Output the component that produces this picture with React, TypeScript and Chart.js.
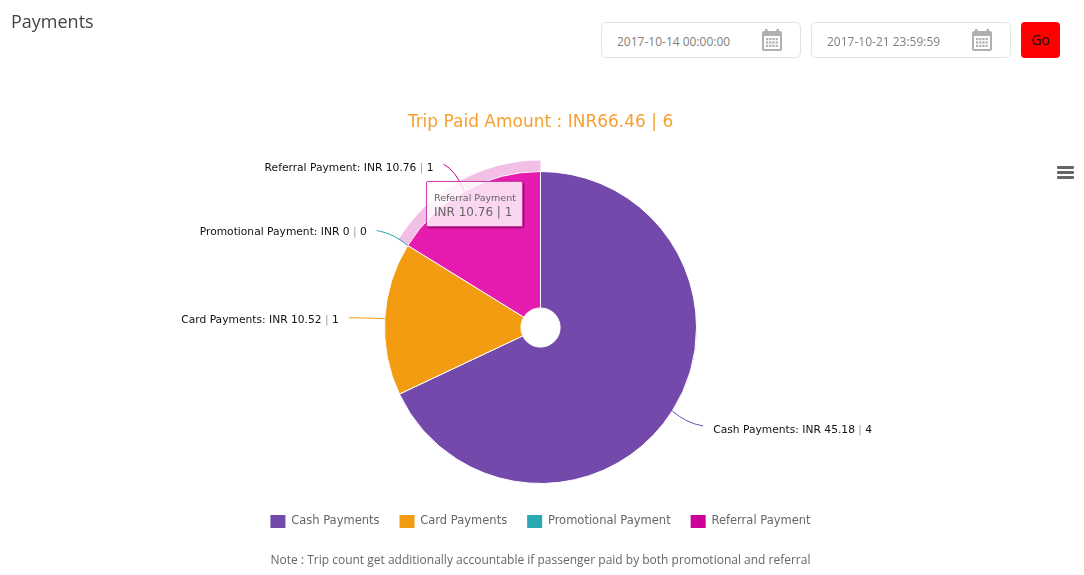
import React, { useEffect, useRef } from "react";
import { Chart, registerables } from "chart.js";

Chart.register(...registerables);

const categories = ["Cash Payments", "Card Payments", "Promotional Payment", "Referral Payment"];
const amounts = [45.18, 10.52, 0, 10.76];
const counts = [4, 1, 0, 1];
const colors = ["#7349ac", "#f39c12", "#2aa9b0", "#cc0099"];
const hoverColors = ["#7349ac", "#f39c12", "#2aa9b0", "#e61cb0"];
const chartTitle = "Trip Paid Amount : INR66.46 | 6";
const noteText = "Note : Trip count get additionally accountable if passenger paid by both promotional and referral";
const dateFrom = "2017-10-14 00:00:00";
const dateTo = "2017-10-21 23:59:59";
const activeIndex = 3;

const LABEL_FONT = '10.7px "DejaVu Sans"';

const connectorOffsets = [
  { x: 31, y: 15, labelDy: 4.5 },
  { x: -36, y: -1, labelDy: 2.5 },
  { x: -31, y: -15, labelDy: 1.5 },
  { x: -21, y: -27, labelDy: 3.5 },
];

const pieAnnotations = {
  id: "pieAnnotations",
  beforeDatasetsDraw(chart: any) {
    const arc = chart.getDatasetMeta(0).data[activeIndex];
    const { x, y, startAngle, endAngle, outerRadius } = arc;
    const ctx = chart.ctx;
    ctx.save();
    ctx.beginPath();
    ctx.arc(x, y, outerRadius + 11, startAngle, endAngle);
    ctx.arc(x, y, outerRadius - 1, endAngle, startAngle, true);
    ctx.closePath();
    ctx.fillStyle = "rgba(204,0,153,0.25)";
    ctx.fill();
    ctx.restore();
  },
  afterDatasetsDraw(chart: any) {
    const ctx = chart.ctx;
    const arcs = chart.getDatasetMeta(0).data;
    ctx.save();
    ctx.font = LABEL_FONT;
    ctx.textBaseline = "middle";
    arcs.forEach((arc: any, i: number) => {
      const mid = (arc.startAngle + arc.endAngle) / 2;
      const px = arc.x + Math.cos(mid) * arc.outerRadius;
      const py = arc.y + Math.sin(mid) * arc.outerRadius;
      const off = connectorOffsets[i];
      const ex = px + off.x;
      const ey = py + off.y;
      ctx.beginPath();
      ctx.moveTo(ex, ey);
      ctx.quadraticCurveTo(px + off.x * 0.45, py + off.y * 0.8, px, py);
      ctx.strokeStyle = colors[i];
      ctx.lineWidth = 1;
      ctx.stroke();

      const a = `${categories[i]}: INR ${amounts[i]} `;
      const b = "|";
      const c = ` ${counts[i]}`;
      const w = ctx.measureText(a + b + c).width;
      const right = off.x > 0;
      let tx = right ? ex + 10 : ex - 10 - w;
      const ty = ey + off.labelDy;
      ctx.textAlign = "left";
      ctx.fillStyle = "#111111";
      ctx.fillText(a, tx, ty);
      tx += ctx.measureText(a).width;
      ctx.fillStyle = "#9a9aa8";
      ctx.fillText(b, tx, ty);
      tx += ctx.measureText(b).width;
      ctx.fillStyle = "#111111";
      ctx.fillText(c, tx, ty);
    });
    ctx.restore();
  },
};

function renderTooltip(el: HTMLDivElement | null) {
  return ({ tooltip }: any) => {
    if (!el) return;
    const title = tooltip.title?.[0] ?? "";
    const body = tooltip.body?.[0]?.lines?.[0] ?? "";
    el.style.display = tooltip.opacity === 0 ? "none" : "block";
    (el.children[0] as HTMLElement).textContent = title;
    (el.children[1] as HTMLElement).textContent = body;
  };
}

function CalendarIcon() {
  return (
    <svg width="20" height="22" viewBox="0 0 20 22" style={{ position: "absolute", right: 18, top: 6 }}>
      <rect x="0" y="2" width="20" height="20" rx="2" fill="#b0b0b0" />
      <rect x="3" y="0" width="2.5" height="4" fill="#b0b0b0" />
      <rect x="14.5" y="0" width="2.5" height="4" fill="#b0b0b0" />
      <rect x="2" y="7" width="16" height="13" fill="#ffffff" />
      {[0, 1, 2].map((r) =>
        [0, 1, 2, 3].map((c) => (
          <rect key={`${r}-${c}`} x={4 + c * 3.2} y={9 + r * 3.4} width="2.2" height="2.2" fill="#b0b0b0" />
        ))
      )}
    </svg>
  );
}

function DateBox({ left, value }: { left: number; value: string }) {
  return (
    <div
      style={{
        position: "absolute",
        left,
        top: 22,
        width: 198,
        height: 34,
        border: "1px solid #e3e3e3",
        borderRadius: 5,
        background: "#fff",
      }}
    >
      <span style={{ position: "absolute", left: 15, top: 9.5, fontSize: 12, lineHeight: "17px", color: "#808080" }}>{value}</span>
      <CalendarIcon />
    </div>
  );
}

export default function App() {
  const canvasRef = useRef<HTMLCanvasElement>(null);
  const tipRef = useRef<HTMLDivElement>(null);

  useEffect(() => {
    if (!canvasRef.current) return;
    const chart = new Chart(canvasRef.current, {
      type: "doughnut",
      data: {
        labels: categories,
        datasets: [
          {
            data: amounts,
            backgroundColor: colors,
            hoverBackgroundColor: hoverColors,
            borderColor: "#ffffff",
            hoverBorderColor: "#ffffff",
            borderWidth: 1,
            hoverBorderWidth: 1,
            hoverOffset: 0,
          },
        ],
      },
      options: {
        responsive: false,
        animation: false,
        events: [],
        cutout: 21,
        radius: 156,
        layout: { padding: { left: 0, right: 3, top: 0, bottom: 37 } },
        plugins: {
          title: {
            display: true,
            text: chartTitle,
            color: "#f5a030",
            font: { family: '"DejaVu Sans"', size: 17, weight: "normal" },
            padding: { top: 112.5, bottom: 27.1 },
          },
          legend: {
            display: true,
            position: "bottom",
            labels: {
              boxWidth: 15,
              boxHeight: 13,
              padding: 20,
              color: "#666666",
              font: { family: '"DejaVu Sans"', size: 11.5 },
              generateLabels: () =>
                categories.map((text, i) => ({
                  text,
                  fillStyle: colors[i],
                  strokeStyle: colors[i],
                  lineWidth: 0,
                  hidden: false,
                  index: i,
                  fontColor: "#666666",
                })),
            },
          },
          tooltip: {
            enabled: false,
            external: renderTooltip(tipRef.current),
            callbacks: {
              title: (items: any[]) => items[0].label,
              label: (item: any) => `INR ${amounts[item.dataIndex]} | ${counts[item.dataIndex]}`,
            },
          },
        },
      } as any,
      plugins: [pieAnnotations],
    });
    const active = [{ datasetIndex: 0, index: activeIndex }];
    chart.setActiveElements(active);
    chart.tooltip?.setActiveElements(active, { x: 470, y: 200 });
    chart.render();
    return () => chart.destroy();
  }, []);

  return (
    <div
      style={{
        position: "fixed",
        left: 0,
        top: 0,
        width: 1084,
        height: 575,
        overflow: "hidden",
        background: "#fff",
        fontFamily: '"Open Sans", sans-serif',
      }}
    >
      <canvas ref={canvasRef} width={1084} height={575} style={{ position: "absolute", left: 0, top: 0, display: "block" }} />
      <div style={{ position: "absolute", left: 11, top: 8, fontSize: 18, lineHeight: "26px", color: "#444" }}>Payments</div>
      <DateBox left={601} value={dateFrom} />
      <DateBox left={811} value={dateTo} />
      <div
        style={{
          position: "absolute",
          left: 1021,
          top: 22,
          width: 39,
          height: 36,
          background: "#ff0000",
          borderRadius: 4,
          color: "#111",
          fontSize: 14,
          lineHeight: "36px",
          textAlign: "center",
        }}
      >
        Go
      </div>
      {[0, 1, 2].map((i) => (
        <div key={i} style={{ position: "absolute", left: 1057, top: 166 + i * 5, width: 17, height: 3, borderRadius: 1, background: "#666" }} />
      ))}
      <div
        ref={tipRef}
        style={{
          position: "absolute",
          left: 426,
          top: 181,
          width: 97,
          height: 46,
          boxSizing: "border-box",
          padding: "9px 0 0 7px",
          border: "1px solid #d040a8",
          borderRadius: 2,
          background: "rgba(255,255,255,0.82)",
          boxShadow: "1px 1px 2px rgba(90,0,70,0.7)",
          fontFamily: '"DejaVu Sans", sans-serif',
          color: "#666",
          whiteSpace: "nowrap",
        }}
      >
        <div style={{ fontSize: 9.5, lineHeight: "13px" }}>Referral Payment</div>
        <div style={{ fontSize: 12, lineHeight: "16px" }}>INR 10.76 | 1</div>
      </div>
      <div style={{ position: "absolute", left: 0, width: 1081, top: 551, textAlign: "center", fontSize: 12, lineHeight: "18px", color: "#666" }}>{noteText}</div>
    </div>
  );
}
